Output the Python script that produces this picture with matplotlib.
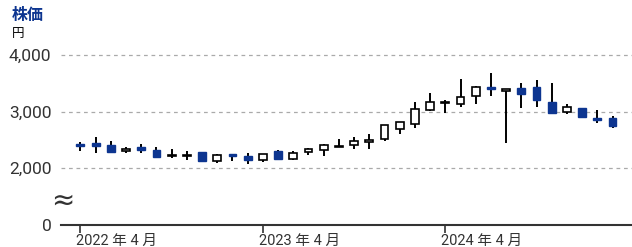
import matplotlib
matplotlib.use("Agg")
import matplotlib.pyplot as plt
import matplotlib.transforms as mtransforms
import numpy as np

# monthly categories: April 2022 .. March 2025
months = ["2022-04", "2022-05", "2022-06", "2022-07", "2022-08", "2022-09",
          "2022-10", "2022-11", "2022-12", "2023-01", "2023-02", "2023-03",
          "2023-04", "2023-05", "2023-06", "2023-07", "2023-08", "2023-09",
          "2023-10", "2023-11", "2023-12", "2024-01", "2024-02", "2024-03",
          "2024-04", "2024-05", "2024-06", "2024-07", "2024-08", "2024-09",
          "2024-10", "2024-11", "2024-12", "2025-01", "2025-02", "2025-03"]

opens  = [2419, 2443, 2402, 2296, 2366, 2313, 2205, 2218, 2278, 2119, 2248, 2212,
          2142, 2296, 2165, 2283, 2319, 2377, 2407, 2466, 2519, 2690, 2784, 3027,
          3145, 3127, 3280, 3434, 3363, 3421, 3439, 3163, 2991, 3062, 2885, 2885]
highs  = [2465, 2543, 2478, 2366, 2419, 2377, 2336, 2306, 2289, 2248, 2250, 2274,
          2255, 2319, 2306, 2349, 2419, 2513, 2543, 2596, 2761, 2820, 3174, 3322,
          3204, 3575, 3451, 3687, 3393, 3499, 3558, 3499, 3133, 3067, 3027, 2926]
lows   = [2306, 2260, 2278, 2260, 2260, 2189, 2172, 2142, 2112, 2083, 2124, 2076,
          2112, 2154, 2142, 2230, 2218, 2377, 2331, 2336, 2483, 2596, 2713, 3009,
          2968, 3074, 3133, 3274, 2448, 3057, 3085, 2968, 2956, 2890, 2791, 2703]
closes = [2395, 2384, 2283, 2336, 2313, 2200, 2225, 2235, 2124, 2230, 2212, 2142,
          2253, 2165, 2271, 2336, 2402, 2395, 2478, 2496, 2756, 2809, 3039, 3174,
          3163, 3251, 3434, 3404, 3393, 3304, 3204, 2979, 3074, 2908, 2850, 2743]

ytick_values = [1000, 2000, 3000, 4000]
ytick_labels = ["0", "2,000", "3,000", "4,000"]
xtick_months = ["2022-04", "2023-04", "2024-04"]
xtick_labels = ["2022 年 4 月", "2023 年 4 月", "2024 年 4 月"]

BLUE = "#0d3590"
DARK = "#333333"
NUM_FONT = ["Roboto", "DejaVu Sans"]
JP_FONT = ["Roboto", "Noto Sans CJK JP", "DejaVu Sans"]

fig = plt.figure(figsize=(6.32, 2.47), dpi=100)
ax = fig.add_axes([0.0965, 0.091, 0.9035, 0.7206])

x = np.arange(len(months))
for xi, o, h, l, c in zip(x, opens, highs, lows, closes):
    ax.vlines(xi, l, h, color="black", linewidth=1.4, zorder=3)
    if c >= o:
        ax.bar(xi, max(c - o, 1), bottom=o, width=0.52, facecolor="white",
               edgecolor="black", linewidth=1.2, zorder=4)
    else:
        ax.bar(xi, o - c, bottom=c, width=0.52, facecolor=BLUE,
               edgecolor=BLUE, linewidth=1.0, zorder=4)

ax.set_xlim(-1.28, 36.28)
ax.set_ylim(1000, 4150)

# gridlines
for v in ytick_values[1:]:
    ax.axhline(v, color="#aaaaaa", linewidth=0.9, linestyle=(0, (3, 3)), zorder=1)

for s in ["top", "right", "left"]:
    ax.spines[s].set_visible(False)
ax.spines["bottom"].set_color(DARK)
ax.spines["bottom"].set_linewidth(1.5)

ax.set_yticks(ytick_values)
ax.set_yticklabels(ytick_labels, family=NUM_FONT, fontsize=12.5, color=DARK)
ax.tick_params(axis="y", length=0, pad=7)

xt = [months.index(m) for m in xtick_months]
ax.set_xticks(xt)
ax.set_xticklabels(xtick_labels, family=JP_FONT, fontsize=10.5, color=DARK, ha="left")
ax.tick_params(axis="x", length=6, width=1.2, color=DARK, pad=0.5)
offset = mtransforms.ScaledTranslation(-4 / 100, 0, fig.dpi_scale_trans)
for lbl in ax.get_xticklabels():
    lbl.set_transform(lbl.get_transform() + offset)

# axis break symbol
ax.text(-1.2, 1420, "≈", ha="center", va="center", fontsize=20, color=DARK,
        family=["DejaVu Sans"], clip_on=False)

fig.text(12 / 632, 1 - 15 / 247, "株価", ha="left", va="center", fontsize=11.5,
         fontweight="bold", color=BLUE, family=["Noto Sans CJK JP"])
fig.text(12 / 632, 1 - 33 / 247, "円", ha="left", va="center", fontsize=9,
         color="black", family=["Noto Sans CJK JP"])

fig.savefig("out.png", dpi=100)
